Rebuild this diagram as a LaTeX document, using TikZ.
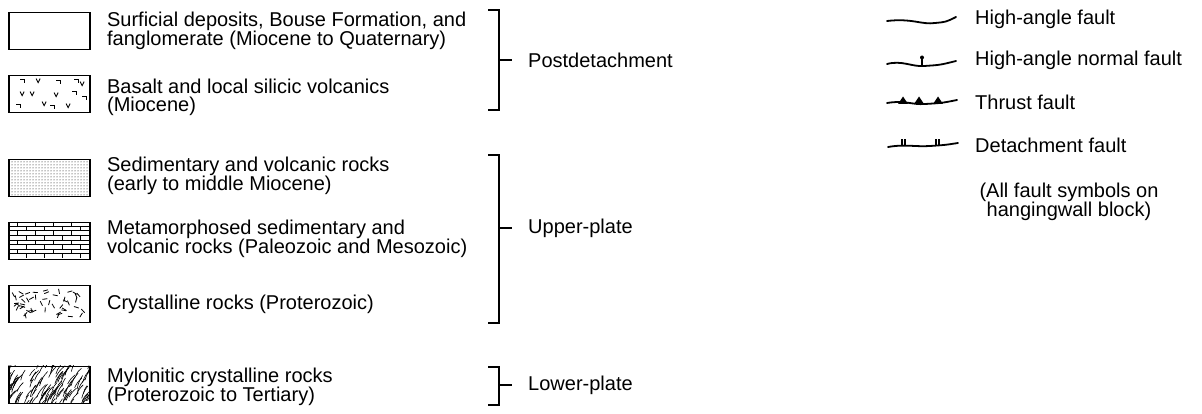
\documentclass[tikz,border=0pt]{standalone}
\usepackage{fontspec}
\setmainfont{Liberation Sans}
\usetikzlibrary{positioning,patterns,backgrounds}

\begin{document}
\begin{tikzpicture}[x=1pt, y=-1pt,
  font=\fontsize{20}{18}\selectfont,
  swatch/.style={rectangle, draw, line width=1.8pt, minimum width=81pt,
                 minimum height=37pt, inner sep=0pt},
  desc/.style={align=left, inner sep=0pt},
  grp/.style={anchor=west, inner sep=0pt},
  brk/.style={line width=1.6pt},
  fault/.style={line width=1.8pt, line cap=round},
  pat/.style={line width=0.9pt}
]
\useasboundingbox (0,0) rectangle (1202,414);

% rock units
\node[swatch] (s1) at (49.5,31) {};
\node[desc, right=16pt of s1] (t1) {Surficial deposits, Bouse Formation, and\\fanglomerate (Miocene to Quaternary)};
\node[swatch] (s2) at (49.5,94) {};
\node[desc, right=16pt of s2, yshift=-3pt] (t2) {Basalt and local silicic volcanics\\(Miocene)};
\node[swatch, pattern=dots] (s3) at (49.5,178) {};
\node[desc, right=16pt of s3, yshift=2pt] (t3) {Sedimentary and volcanic rocks\\(early to middle Miocene)};
\node[swatch] (s4) at (49.5,241) {};
\node[desc, right=16pt of s4, yshift=2pt] (t4) {Metamorphosed sedimentary and\\volcanic rocks (Paleozoic and Mesozoic)};
\node[swatch] (s5) at (49.5,304) {};
\node[desc, right=16pt of s5] (t5) {Crystalline rocks (Proterozoic)};
\node[swatch] (s6) at (49.5,385) {};
\node[desc, right=16pt of s6, yshift=-2pt] (t6) {Mylonitic crystalline rocks\\(Proterozoic to Tertiary)};

\begin{pgfonlayer}{background}
% basalt
\begin{scope}[shift={(s2.north west)}]
  \foreach \px/\py in {30/6, 48/20, 14/19, 60/31, 36/29, 74/9, 24/19}
    \draw[pat] (\px-2,\py-2) -- (\px,\py+2) -- (\px+2,\py-2);
  \foreach \px/\py in {14/5, 50/6, 66/17, 10/30, 44/31, 76/22, 68/5}
    \draw[pat] (\px-2,\py) -- (\px+2,\py) -- (\px+2,\py+3);
\end{scope}
% bricks
\begin{scope}[shift={(s4.north west)}]
  \foreach \r in {1,...,7}
    \draw[pat] (0,\r*4.6) -- (81,\r*4.6);
  \foreach \r in {0,...,7} {
    \pgfmathsetmacro\off{mod(\r,2)*9}
    \foreach \c in {0,1,2,3}
      \draw[pat] (9+\off+18*\c,\r*4.6) -- (9+\off+18*\c,\r*4.6+4.6);
  }
\end{scope}
% crystalline
\begin{scope}[shift={(s5.north west)}]
  \pgfmathsetseed{7}
  \foreach \i in {1,...,50} {
    \pgfmathsetmacro\cx{5+71*rnd}
    \pgfmathsetmacro\cy{5+27*rnd}
    \pgfmathsetmacro\ang{180*rnd}
    \draw[pat, line width=0.8pt] (\cx,\cy) ++(\ang+180:2.5) -- ++(\ang:5);
  }
\end{scope}
% mylonite
\begin{scope}[shift={(s6.north west)}]
  \clip (0,0) rectangle (81,37);
  \pgfmathsetseed{3}
  \foreach \i in {1,...,130} {
    \pgfmathsetmacro\cx{-4+89*rnd}
    \pgfmathsetmacro\cy{-4+45*rnd}
    \pgfmathsetmacro\ang{-50-18*rnd}
    \pgfmathsetmacro\len{8+8*rnd}
    \draw[line width=0.6pt] (\cx,\cy) ++(\ang+180:\len/2) to[bend left=12] ++(\ang:\len);
  }
\end{scope}
\end{pgfonlayer}

% groupings
\node[grp] (pd) at (528,60) {Postdetachment};
\node[grp] (up) at (528,228) {Upper-plate};
\node[grp] (lp) at (528,385) {Lower-plate};
\draw[brk] (488,10) -- (499,10) -- (499,110) -- (488,110);
\draw[brk] (499,60) -- ([xshift=-16pt]pd.west);
\draw[brk] (488,155) -- (499,155) -- (499,323) -- (488,323);
\draw[brk] (499,228) -- ([xshift=-16pt]up.west);
\draw[brk] (488,367) -- (499,367) -- (499,405) -- (488,405);
\draw[brk] (499,385) -- ([xshift=-16pt]lp.west);

% fault symbols
\node[grp] (f1) at (975,19) {High-angle fault};
\node[grp] (f2) at (975,60) {High-angle normal fault};
\node[grp] (f3) at (975,102) {Thrust fault};
\node[grp] (f4) at (975,145) {Detachment fault};
\node[align=center, inner sep=0pt] (note) at (1069,202) {(All fault symbols on\\hangingwall block)};

\draw[fault] (887,21) .. controls (912,18) and (922,25) .. (935,23) .. controls (946,22) .. (956,17);
\draw[fault] (887,64) .. controls (902,60) and (912,67) .. (924,66) .. controls (940,65) .. (956,61);
\draw[line width=1.2pt] (922,66) -- (922,59);
\fill (922,57.5) circle (2pt);
\draw[fault] (887,103) .. controls (905,100) and (912,105) .. (925,104) .. controls (942,103) .. (957,100);
\foreach \tx in {903,919,938}
  \fill (\tx-5,104) -- (\tx,96.5) -- (\tx+5,104) -- cycle;
\draw[fault] (888,147) .. controls (905,144) and (915,147) .. (930,146) .. controls (945,145) .. (958,143);
\foreach \tx in {902,936} {
  \draw[line width=1.1pt] (\tx,146) -- (\tx,139.5);
  \draw[line width=1.1pt] (\tx+3,146) -- (\tx+3,139.5);
}
\end{tikzpicture}
\end{document}
